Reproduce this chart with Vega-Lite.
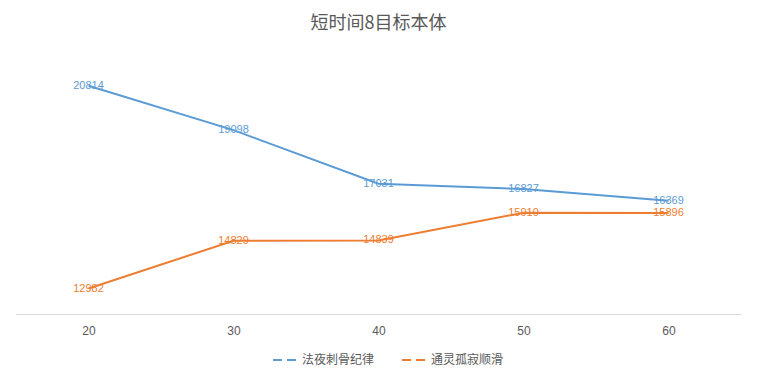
{
  "$schema": "https://vega.github.io/schema/vega-lite/v6.json",
  "width": 725,
  "height": 259,
  "autosize": {"type": "none"},
  "padding": {"left": 16, "top": 55, "right": 16, "bottom": 64},
  "background": "white",
  "title": {
    "text": "短时间8目标本体",
    "font": "Noto Sans CJK SC",
    "fontSize": 18,
    "fontWeight": "normal",
    "color": "#595959",
    "anchor": "middle",
    "offset": 22
  },
  "data": {
    "values": [
      {"x": "20", "series": "法夜刺骨纪律", "value": 20814},
      {"x": "30", "series": "法夜刺骨纪律", "value": 19098},
      {"x": "40", "series": "法夜刺骨纪律", "value": 17031},
      {"x": "50", "series": "法夜刺骨纪律", "value": 16827},
      {"x": "60", "series": "法夜刺骨纪律", "value": 16369},
      {"x": "20", "series": "通灵孤寂顺滑", "value": 12982},
      {"x": "30", "series": "通灵孤寂顺滑", "value": 14829},
      {"x": "40", "series": "通灵孤寂顺滑", "value": 14839},
      {"x": "50", "series": "通灵孤寂顺滑", "value": 15910},
      {"x": "60", "series": "通灵孤寂顺滑", "value": 15896}
    ]
  },
  "encoding": {
    "x": {
      "field": "x",
      "type": "ordinal",
      "sort": null,
      "scale": {"type": "point", "padding": 0.5},
      "axis": {
        "title": null,
        "labelAngle": 0,
        "ticks": false,
        "domainColor": "#d9d9d9",
        "domainWidth": 1,
        "labelColor": "#595959",
        "labelFont": "Liberation Sans",
        "labelFontSize": 12,
        "labelPadding": 11,
        "grid": false
      }
    },
    "y": {
      "field": "value",
      "type": "quantitative",
      "scale": {"domain": [12000, 22000], "zero": false, "nice": false},
      "axis": null
    },
    "color": {
      "field": "series",
      "type": "nominal",
      "scale": {"domain": ["法夜刺骨纪律", "通灵孤寂顺滑"], "range": ["#5b9bd5", "#ed7d31"]},
      "legend": {
        "title": null,
        "orient": "none",
        "legendX": 256,
        "legendY": 292,
        "direction": "horizontal",
        "symbolType": "stroke",
        "symbolSize": 576,
        "symbolStrokeWidth": 2,
        "symbolDash": [9, 5],
        "labelFont": "Noto Sans CJK SC",
        "labelFontSize": 12,
        "labelColor": "#595959",
        "labelOffset": 4,
        "columnPadding": 23
      }
    }
  },
  "layer": [
    {
      "mark": {"type": "line", "strokeWidth": 2}
    },
    {
      "mark": {
        "type": "text",
        "align": "center",
        "baseline": "middle",
        "font": "Liberation Sans",
        "fontSize": 11
      },
      "encoding": {
        "text": {"field": "value", "type": "quantitative", "format": "d"}
      }
    }
  ],
  "config": {
    "view": {"stroke": null}
  }
}
